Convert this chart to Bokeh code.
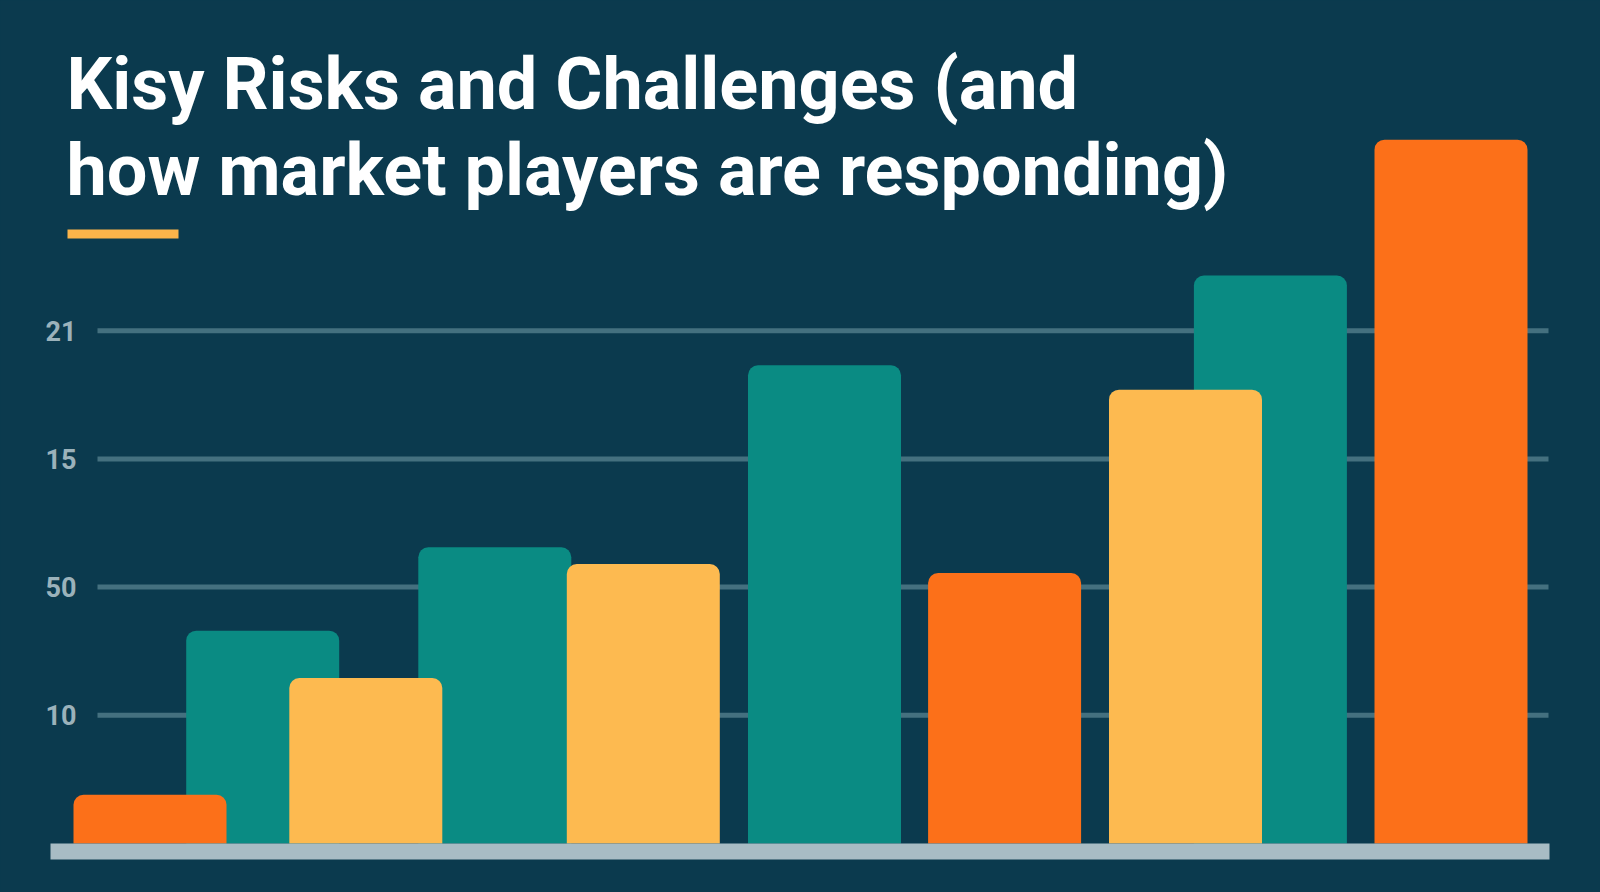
from bokeh.plotting import figure
from bokeh.models import Range1d, ColumnDataSource, Label, BoxAnnotation
from bokeh.core.properties import value
from bokeh.embed import file_html
from bokeh.resources import INLINE

# ---------------- data ----------------
categories = ["C1", "C2", "C3", "C4", "C5", "C6", "C7", "C8", "C9", "C10"]
values = [1.9, 8.3, 6.45, 11.55, 10.9, 18.65, 10.55, 17.7, 22.15, 27.45]
series = ["Orange", "Teal", "Yellow", "Teal", "Yellow", "Teal", "Orange", "Yellow", "Teal", "Orange"]
tick_values = [5, 10, 15, 20]
tick_labels = ["10", "50", "15", "21"]
title_lines = ["Kisy Risks and Challenges (and", "how market players are responding)"]

# ---------------- layout / style ----------------
W, H = 1600, 892
BG = "#0b3a4e"
colors = {"Teal": "#0a8b83", "Yellow": "#fdba50", "Orange": "#fc7019"}
draw_order = ["Teal", "Yellow", "Orange"]
# bar centre positions along the (hidden) x scale, in screen-like units
bar_centers = [149.5, 262.2, 365.3, 494.3, 642.8, 824.0, 1004.1, 1185.0, 1269.9, 1450.5]
bar_width = 153
PX_PER_UNIT = 25.64
ZERO_Y = 843  # pixel row (from top) of the value 0

p = figure(width=W, height=H, output_backend="svg", toolbar_location=None,
           x_axis_type=None, y_axis_type=None,
           x_range=Range1d(0, W),
           y_range=Range1d(-(H - ZERO_Y) / PX_PER_UNIT, ZERO_Y / PX_PER_UNIT),
           min_border=0, outline_line_color=None,
           background_fill_color=BG, border_fill_color=BG)
p.grid.visible = False

def y_of_px(py):
    return (ZERO_Y - py) / PX_PER_UNIT

# gridlines
p.segment(x0=[97] * len(tick_values), x1=[1548] * len(tick_values),
          y0=tick_values, y1=tick_values, line_color="#44707f", line_width=5)

# tick labels
p.text(x=[76] * len(tick_values), y=tick_values, text=tick_labels,
       text_font=value("Roboto"), text_font_style="bold", text_font_size="27px",
       text_color="#9bb2bb", text_align="right", text_baseline="middle")

# bars by series
for s in draw_order:
    idx = [i for i, v in enumerate(series) if v == s]
    src = ColumnDataSource(dict(
        x=[bar_centers[i] for i in idx],
        top=[values[i] for i in idx],
        cat=[categories[i] for i in idx],
    ))
    p.vbar(x="x", top="top", bottom=0, width=bar_width, source=src,
           fill_color=colors[s], line_color=None, border_radius=(10, 10, 0, 0))

# baseline band
p.add_layout(BoxAnnotation(left=50, right=1549, top=0, bottom=y_of_px(859),
                           fill_color="#a8bcc4", fill_alpha=1.0, line_color=None, level="overlay"))

# title (label anchor sits ~25px above the drawn baseline)
p.add_layout(Label(x=66, y=y_of_px(84), text=title_lines[0], text_font="Roboto",
                   text_font_style="bold", text_font_size="72px", text_color="#ffffff",
                   text_baseline="alphabetic"))
p.add_layout(Label(x=66, y=y_of_px(170), text=title_lines[1], text_font="Roboto",
                   text_font_style="bold", text_font_size="72px", text_color="#ffffff",
                   text_baseline="alphabetic"))

# accent underline
p.add_layout(BoxAnnotation(left=67, right=178, top=y_of_px(229), bottom=y_of_px(238),
                           fill_color="#fbb44a", fill_alpha=1.0, line_color=None))

html = file_html(p, INLINE)
html = html.replace("</head>", "<style>html, body { background: %s; }</style></head>" % BG, 1)
open("out.html", "w").write(html)
